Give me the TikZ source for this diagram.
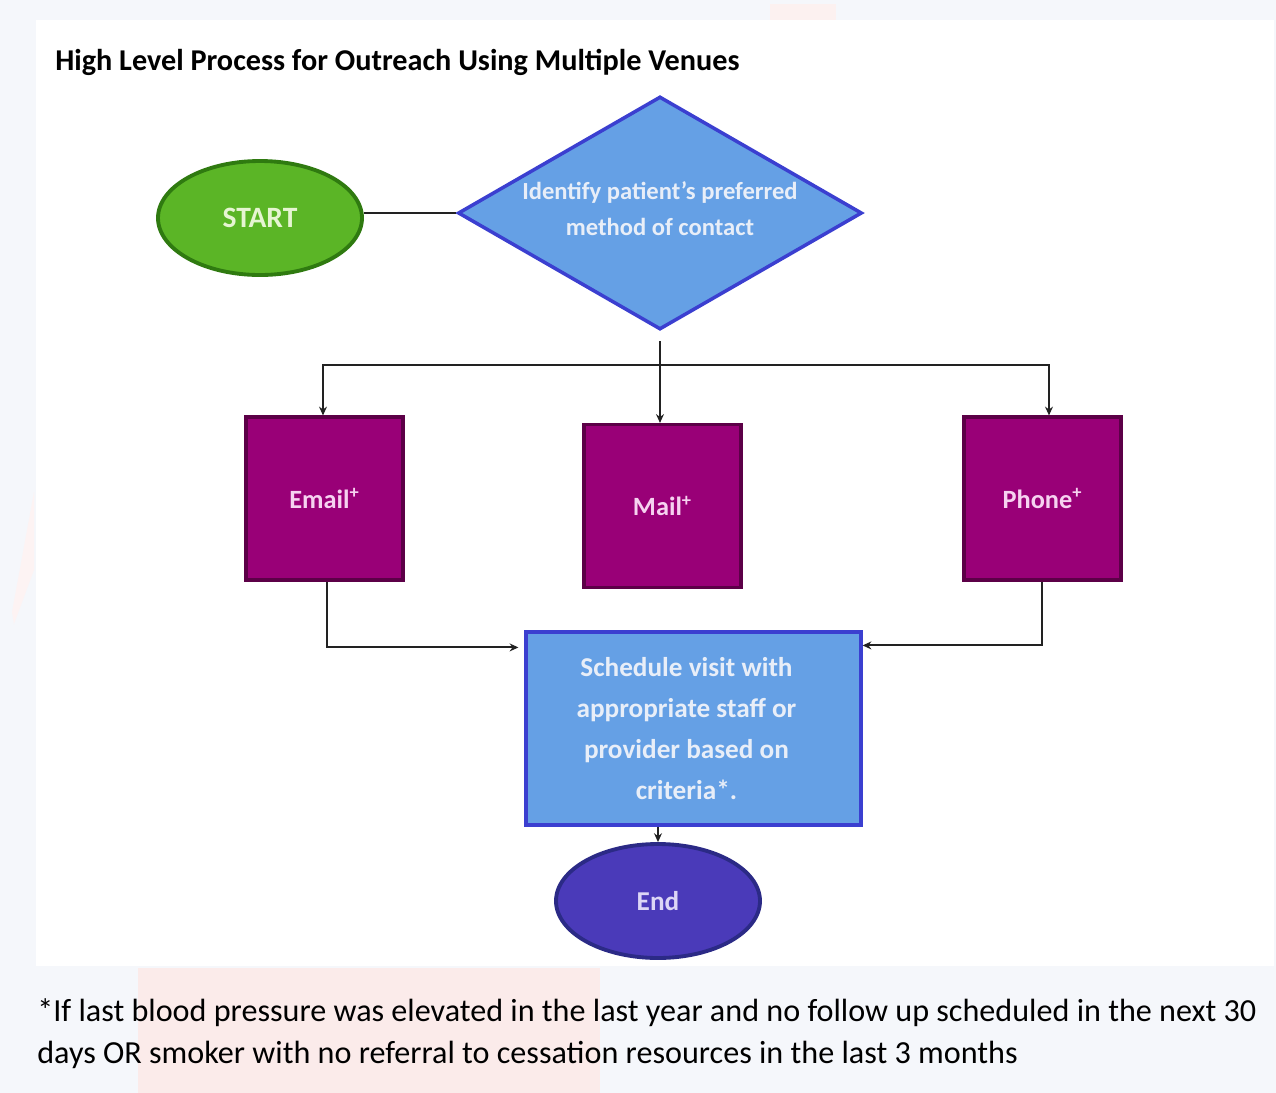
\documentclass[tikz,border=0pt]{standalone}
\usepackage{fontspec}
\setmainfont{Carlito}
\usetikzlibrary{shapes.geometric,arrows.meta,calc}
\definecolor{pagebg}{HTML}{F5F7FB}
\definecolor{pinkbg}{HTML}{FBEBEA}
\definecolor{greenfill}{HTML}{5BB526}
\definecolor{greenedge}{HTML}{2F7A10}
\definecolor{greentext}{HTML}{E6F5D2}
\definecolor{bluefill}{HTML}{65A0E5}
\definecolor{blueedge}{HTML}{3B3FD0}
\definecolor{bluetext}{HTML}{E8EEF8}
\definecolor{purpfill}{HTML}{990077}
\definecolor{purpedge}{HTML}{5C0047}
\definecolor{purptext}{HTML}{F6D2F0}
\definecolor{endfill}{HTML}{4A3AB9}
\definecolor{endedge}{HTML}{2B2A86}
\definecolor{endtext}{HTML}{DCD6F6}
\definecolor{linecol}{HTML}{222222}
\tikzset{
  oval/.style={ellipse, inner sep=0pt, minimum width=204*0.02cm, minimum height=114*0.02cm, line width=2.2pt, font=\fontsize{15.5}{18}\selectfont\bfseries},
  venue/.style={rectangle, fill=purpfill, draw=purpedge, line width=1.8pt, minimum width=157*0.02cm, minimum height=163*0.02cm, inner sep=0pt, text=purptext, font=\fontsize{15}{18}\selectfont\bfseries},
  conn/.style={draw=linecol, line width=1.1pt},
  arr/.style={conn, -{Stealth[length=5pt,width=4.5pt]}},
}
\begin{document}
\begin{tikzpicture}[x=0.02cm,y=-0.02cm]
\useasboundingbox (0,0) rectangle (1276,1093);
% page background
\fill[pagebg] (0,0) rectangle (1276,1093);
\fill[pinkbg!70!white] (770,4) rectangle (836,20);
\fill[pinkbg!60!white] (12,612) -- (34,492) -- (34,570) -- (14,624) -- cycle;
\fill[pinkbg] (138,968) rectangle (600,1093);
\fill[white] (36,20) rectangle (1274,966);

% title
\node[anchor=west, font=\fontsize{17.2}{20}\selectfont\bfseries, inner sep=0pt] (title) at (55,62) {High Level Process for Outreach Using Multiple Venues};

% start and decision
\node[oval, fill=greenfill, draw=greenedge, text=greentext, font=\fontsize{16.8}{20}\selectfont\bfseries] (start) at (260,218) {START};
\node[diamond, fill=bluefill, draw=blueedge, line width=2pt, inner sep=0pt, minimum width=404*0.02cm, minimum height=233*0.02cm] (dia) at (660,213) {};
\node[align=center, text=bluetext, font=\fontsize{14}{20.4}\selectfont\bfseries, inner sep=0pt] (diatext) at (660,209) {Identify patient’s preferred\\method of contact};

% venues
\node[venue] (email) at (324.5,498.5) {Email\textsuperscript{+}};
\node[venue] (mail) at (662.5,506) {Mail\textsuperscript{+}};
\node[venue] (phone) at (1042.5,498.5) {Phone\textsuperscript{+}};

% schedule
\node[rectangle, fill=bluefill, draw=blueedge, line width=1.8pt, minimum width=335*0.02cm, minimum height=193*0.02cm, inner sep=0pt, align=center, text=bluetext, font=\fontsize{15.5}{23.3}\selectfont\bfseries] (sched) at (693.5,728.5) {\hspace*{-8pt}Schedule visit with\\\hspace*{-8pt}appropriate staff or\\\hspace*{-8pt}provider based on\\\hspace*{-8pt}criteria*.};

% end
\node[oval, fill=endfill, draw=endedge, text=endtext] (end) at (658,901) {End};

% connectors
\draw[conn] (dia.west -| start.east) -- (dia.west);
\coordinate (split) at ($(dia.south)+(0,34)$);
\draw[arr] ([yshift=-0.2cm]dia.south) -- (dia.south |- mail.north);
\draw[arr] (split) -| ($(email.north)+(-1.5,0)$);
\draw[arr] (split) -| ($(phone.north)+(6.5,0)$);
\draw[arr] ($(email.south)+(2.5,0)$) |- ($(sched.north west)+(-6,17)$);
\draw[arr] ($(phone.south)+(-0.5,0)$) |- ($(sched.north east)+(0,15)$);
\draw[arr] (end.north |- sched.south) -- (end.north);

% footnote
\node[anchor=north west, align=left, font=\fontsize{18.3}{23.8}\selectfont, inner sep=0pt, text=black] (note) at (37,998) {*If last blood pressure was elevated in the last year and no follow up scheduled in the next 30\\days OR smoker with no referral to cessation resources in the last 3 months};
\end{tikzpicture}
\end{document}
